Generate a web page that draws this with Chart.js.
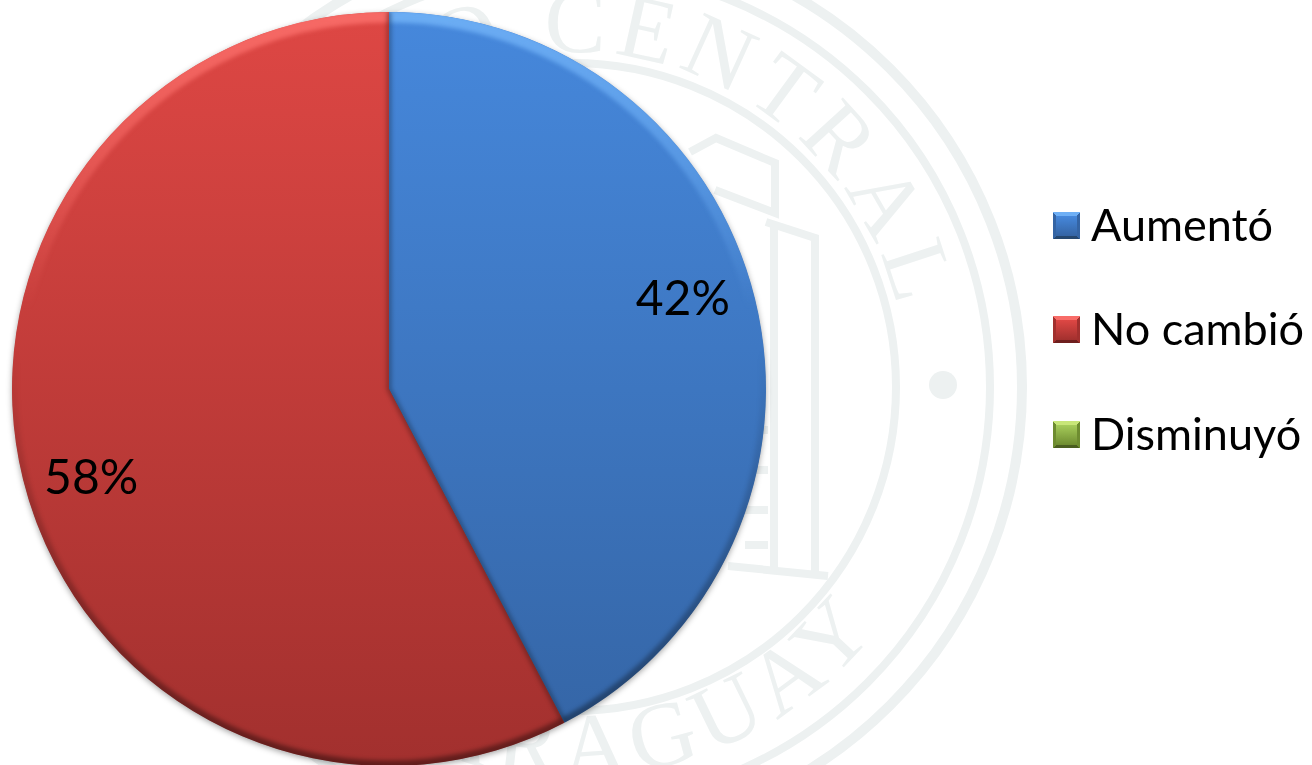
<!DOCTYPE html>
<html>
<head>
<meta charset="utf-8">
<style>
  html, body { margin: 0; padding: 0; background: #fff; overflow: hidden; width: 1312px; height: 765px; }
  #seal { position: absolute; left: 0; top: 0; }
  #wrap { position: absolute; left: 0; top: 0; width: 1312px; height: 778px; }
  .leg { position: absolute; left: 1053px; font: 45px Lato, sans-serif; color: #000; white-space: nowrap; }
  .sw { position: absolute; left: 0; top: 0; width: 27px; height: 27px; box-sizing: border-box; }
  .sw i { position: absolute; left: 3px; right: 3px; bottom: 3px; top: 4px; }
  .leg span { position: absolute; left: 38px; top: -15px; line-height: 54px; }
</style>
</head>
<body>
<!-- marca de agua de fondo -->
<svg id="seal" width="1312" height="765" fill="none" stroke="#edf1f1">
  <defs>
    <path id="arcTop" d="M 237 387 A 335 335 0 0 1 907 387"/>
    <path id="arcBottom" d="M 182 387 A 390 390 0 0 0 962 387"/>
  </defs>
  <circle cx="572" cy="387" r="450" stroke-width="10"/>
  <circle cx="572" cy="387" r="418" stroke-width="8"/>
  <circle cx="572" cy="387" r="324" stroke-width="8"/>
  <circle cx="943" cy="385" r="14" fill="#edf1f1" stroke="none"/>
  <g fill="none" stroke-width="8">
    <path d="M 690 152 L 716 138 L 775 163 L 775 213 L 715 190"/>
    <path d="M 766 222 L 815 238 L 815 574"/>
    <path d="M 774 226 L 774 568"/>
    <path d="M 745 430 L 768 430 M 745 470 L 768 470 M 745 510 L 768 510 M 745 545 L 768 545"/>
    <path d="M 728 566 L 828 576"/>
  </g>
  <g fill="#edf1f1" stroke="none" font-family="'Liberation Serif', serif" font-size="92">
    <text letter-spacing="8"><textPath href="#arcTop" startOffset="93%" text-anchor="end">BANCO CENTRAL</textPath></text>
    <text letter-spacing="8"><textPath href="#arcBottom" startOffset="79%" text-anchor="end">DEL PARAGUAY</textPath></text>
  </g>
</svg>

<div id="wrap"><canvas id="pieChart"></canvas></div>
<div id="legend"></div>

<script src="https://cdn.jsdelivr.net/npm/chart.js@4"></script>
<script>
const categories = ['Aumentó', 'No cambió', 'Disminuyó'];
const values = [42.3, 57.7, 0];

const topColors = ['#4688DC', '#DE4744', '#A6CC5A'];
const bottomColors = ['#3464A4', '#A2302E', '#6E8C30'];
const edgeColors = ['#25476F', '#6E1F1E', '#4A5E20'];
const rimColors = ['110,175,245', '248,108,104', '200,230,120'];

// leyenda html, igual que en la diapositiva
const legendTops = [212, 316, 421];
const legend = document.getElementById('legend');
categories.forEach(function(name, i) {
    const row = document.createElement('div');
    row.className = 'leg';
    row.style.top = legendTops[i] + 'px';
    const sw = document.createElement('div');
    sw.className = 'sw';
    sw.style.background = 'conic-gradient(from -45deg, rgb(' + rimColors[i] + ') 0 90deg, ' + bottomColors[i] + ' 90deg 180deg, ' + edgeColors[i] + ' 180deg 270deg, ' + bottomColors[i] + ' 270deg 360deg)';
    const inner = document.createElement('i');
    inner.style.background = 'linear-gradient(' + topColors[i] + ', ' + bottomColors[i] + ')';
    sw.appendChild(inner);
    const txt = document.createElement('span');
    txt.textContent = name;
    row.appendChild(sw);
    row.appendChild(txt);
    legend.appendChild(row);
});

// sombra suave detrás del círculo
const shadowPlugin = {
    id: 'pieShadow',
    beforeDatasetsDraw: function(chart) {
        const arc = chart.getDatasetMeta(0).data[0];
        const ctx = chart.ctx;
        ctx.save();
        ctx.shadowColor = 'rgba(0,0,0,0.4)';
        ctx.shadowBlur = 6;
        ctx.shadowOffsetY = 2;
        ctx.fillStyle = '#555';
        ctx.beginPath();
        ctx.arc(arc.x, arc.y, arc.outerRadius - 0.5, 0, Math.PI * 2);
        ctx.fill();
        ctx.restore();
    }
};

// biselado de cada porción
const bevelPlugin = {
    id: 'pieBevel',
    afterDatasetsDraw: function(chart) {
        const ctx = chart.ctx;
        chart.getDatasetMeta(0).data.forEach(function(arc, i) {
            if (!values[i]) return;
            const x = arc.x, y = arc.y, r = arc.outerRadius;
            const a0 = arc.startAngle, a1 = arc.endAngle;
            ctx.save();
            ctx.beginPath();
            ctx.moveTo(x, y);
            ctx.arc(x, y, r, a0, a1);
            ctx.closePath();
            ctx.clip();

            // borde claro arriba
            const light = ctx.createLinearGradient(0, y - r, 0, y - 80);
            light.addColorStop(0, 'rgba(' + rimColors[i] + ',0.95)');
            light.addColorStop(0.5, 'rgba(' + rimColors[i] + ',0.5)');
            light.addColorStop(1, 'rgba(' + rimColors[i] + ',0)');
            ctx.filter = 'blur(2px)';
            ctx.strokeStyle = light;
            ctx.lineWidth = 13;
            ctx.beginPath();
            ctx.arc(x, y, r - 4, a0, a1);
            ctx.stroke();

            // borde oscuro abajo
            const dark = ctx.createLinearGradient(0, y - 40, 0, y + r);
            dark.addColorStop(0, 'rgba(0,0,0,0)');
            dark.addColorStop(1, 'rgba(0,0,0,0.4)');
            ctx.strokeStyle = dark;
            ctx.lineWidth = 9;
            ctx.beginPath();
            ctx.arc(x, y, r - 1, a0, a1);
            ctx.stroke();

            // lados rectos
            ctx.strokeStyle = 'rgba(0,0,0,0.28)';
            ctx.lineWidth = 5;
            ctx.beginPath();
            ctx.moveTo(x + Math.cos(a0) * r, y + Math.sin(a0) * r);
            ctx.lineTo(x, y);
            ctx.lineTo(x + Math.cos(a1) * r, y + Math.sin(a1) * r);
            ctx.stroke();
            ctx.restore();
        });
    }
};

// etiquetas de porcentaje
const percentPlugin = {
    id: 'percentLabels',
    afterDraw: function(chart) {
        const ctx = chart.ctx;
        ctx.save();
        ctx.font = '48px Lato, sans-serif';
        ctx.fillStyle = '#000';
        ctx.textAlign = 'center';
        ctx.textBaseline = 'middle';
        chart.getDatasetMeta(0).data.forEach(function(arc, i) {
            if (!values[i]) return;
            const mid = (arc.startAngle + arc.endAngle) / 2 - 3 * Math.PI / 180;
            const dist = arc.outerRadius * 0.82;
            ctx.fillText(Math.round(values[i]) + '%', arc.x + Math.cos(mid) * dist - 2, arc.y + Math.sin(mid) * dist);
        });
        ctx.restore();
    }
};

new Chart(document.getElementById('pieChart').getContext('2d'), {
    type: 'pie',
    data: {
        labels: categories,
        datasets: [{
            data: values,
            backgroundColor: function(context) {
                const area = context.chart.chartArea;
                if (!area) return topColors[context.dataIndex];
                const g = context.chart.ctx.createLinearGradient(0, area.top, 0, area.bottom);
                g.addColorStop(0, topColors[context.dataIndex]);
                g.addColorStop(1, bottomColors[context.dataIndex]);
                return g;
            },
            borderWidth: 0,
            hoverOffset: 0
        }]
    },
    options: {
        responsive: true,
        maintainAspectRatio: false,
        animation: false,
        layout: { padding: { left: 12, top: 12, right: 546, bottom: 12 } },
        plugins: {
            legend: { display: false },
            tooltip: { enabled: false }
        }
    },
    plugins: [shadowPlugin, bevelPlugin, percentPlugin]
});
</script>
</body>
</html>
